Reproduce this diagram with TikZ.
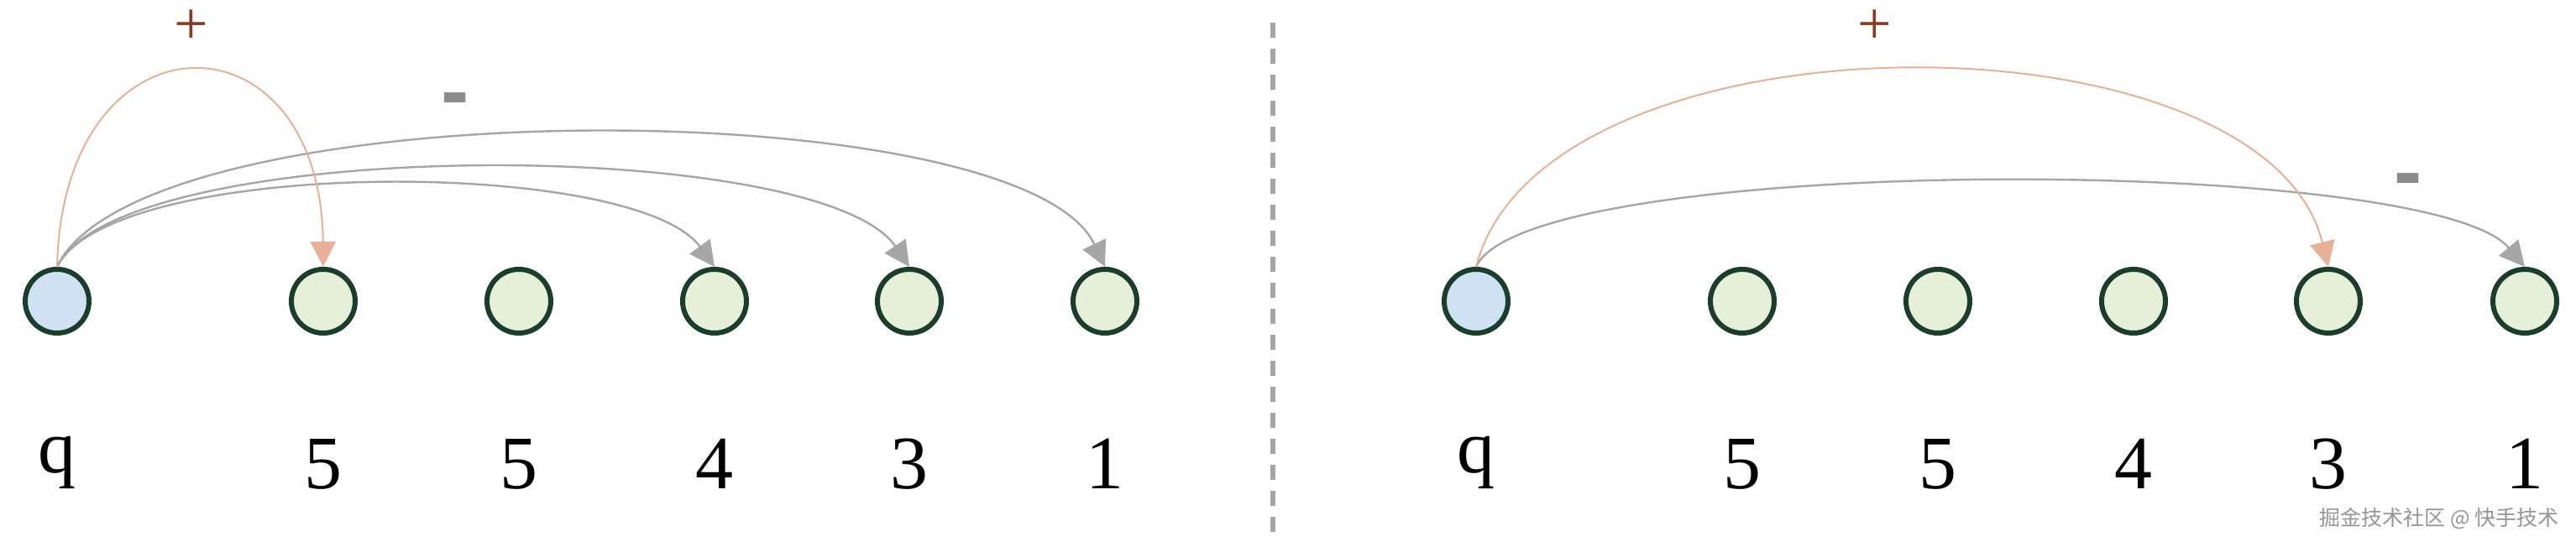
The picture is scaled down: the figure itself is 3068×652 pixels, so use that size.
\documentclass[tikz,border=0pt]{standalone}
\usepackage{fontspec}
\setmainfont{Liberation Serif}
\newfontfamily\marksans{Liberation Sans}
\newfontfamily\cjk{Noto Sans CJK SC}
\usepackage{tikz}
\usetikzlibrary{arrows.meta}
\definecolor{ringgreen}{HTML}{1B3D2C}
\definecolor{qblue}{HTML}{CFE2F3}
\definecolor{numgreen}{HTML}{E6F0D8}
\definecolor{addcol}{HTML}{E8B096}
\definecolor{subcol}{HTML}{A6A6A6}
\definecolor{addmark}{HTML}{8B3A1E}
\definecolor{submark}{HTML}{8C8C8C}
\tikzstyle{cell} = [circle, draw=ringgreen, line width=3pt, minimum size=38pt, inner sep=0pt]
\tikzstyle{qcell} = [cell, fill=qblue]
\tikzstyle{ncell} = [cell, fill=numgreen]
\tikzstyle{lbl} = [anchor=base, inner sep=0pt, font=\fontsize{45}{54}\selectfont]
\tikzstyle{addarc} = [draw=addcol, line width=1pt, -{Triangle[length=15pt,width=15pt]}]
\tikzstyle{subarc} = [draw=subcol, line width=1.2pt, -{Triangle[length=15pt,width=15pt]}]
\tikzstyle{addsign} = [anchor=base, inner sep=0pt, text=addmark, font=\fontsize{36}{40}\selectfont]
\tikzstyle{subsign} = [anchor=base, inner sep=0pt, text=submark, font=\marksans\bfseries\fontsize{50}{56}\selectfont]

\begin{document}
\begin{tikzpicture}[x=0.5pt,y=0.5pt]
  \fill[white] (0,0) rectangle (3068,652);
  \useasboundingbox (0,0) rectangle (3068,652);
  % left
  \draw (68, 293)node[qcell](lq){};
  \draw (385, 293)node[ncell](l1){};
  \draw (618, 293)node[ncell](l2){};
  \draw (851, 293)node[ncell](l3){};
  \draw (1083, 293)node[ncell](l4){};
  \draw (1316, 293)node[ncell](l5){};
  \draw (68, 88)node[lbl](lqt){q};
  \draw (385, 69)node[lbl](l1t){5};
  \draw (618, 69)node[lbl](l2t){5};
  \draw (851, 69)node[lbl](l3t){4};
  \draw (1083, 69)node[lbl](l4t){3};
  \draw (1316, 69)node[lbl](l5t){1};
  \draw[subarc] (lq.north) .. controls +(65,131) and +(-95,131) .. (l3.north);
  \draw[subarc] (lq.north) .. controls +(75,157) and +(-107,157) .. (l4.north);
  \draw[subarc] (lq.north) .. controls +(100,212) and +(-100,212) .. (l5.north);
  \draw[addarc] (lq.north) .. controls +(7,311) and +(-3,311) .. (l1.north);
  \draw (228, 599)node[addsign](ladd){+};
  \draw (542, 509)node[subsign](lsub){-};
  % divider
  \draw[subcol, line width=3pt, dash pattern=on 9pt off 6.5pt] (1516,625) -- (1516,16);
  % right
  \draw (1758, 293)node[qcell](rq){};
  \draw (2075, 293)node[ncell](r1){};
  \draw (2308, 293)node[ncell](r2){};
  \draw (2541, 293)node[ncell](r3){};
  \draw (2773, 293)node[ncell](r4){};
  \draw (3007, 293)node[ncell](r5){};
  \draw (1758, 88)node[lbl](rqt){q};
  \draw (2075, 69)node[lbl](r1t){5};
  \draw (2308, 69)node[lbl](r2t){5};
  \draw (2541, 69)node[lbl](r3t){4};
  \draw (2773, 69)node[lbl](r4t){3};
  \draw (3007, 69)node[lbl](r5t){1};
  \draw[subarc] (rq.north) .. controls +(60,135) and +(-114,135) .. (r5.north);
  \draw[addarc] (rq.north) .. controls +(80,312) and +(-77,312) .. (r4.north);
  \draw (2233, 599)node[addsign](radd){+};
  \draw (2868, 413)node[subsign](rsub){-};
  \draw (2905, 34)node[text={rgb,255:red,150;green,150;blue,150}, font=\cjk\fontsize{12.5}{14}\selectfont](mark){掘金技术社区 @ 快手技术};
\end{tikzpicture}
\end{document}
